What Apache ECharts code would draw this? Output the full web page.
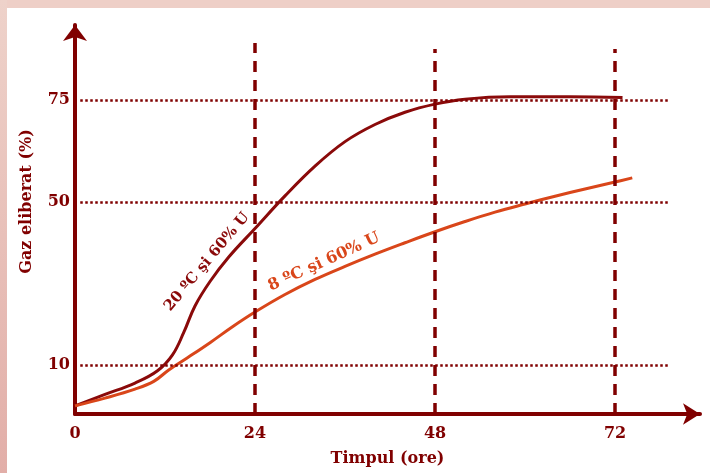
<!DOCTYPE html>
<html>
<head>
<meta charset="utf-8">
<script src="https://cdn.jsdelivr.net/npm/echarts@6/dist/echarts.min.js"></script>
<style>
html,body{margin:0;padding:0;background:#fff;}
#c{width:710px;height:473px;}
</style>
</head>
<body>
<div id="c"></div>
<script>
// Data
const time20 = [0, 4, 8, 11, 13, 14.5, 16, 18, 20.5, 24, 28, 32, 36, 40, 44, 48, 52, 58, 66, 73];
const gas20  = [0, 2.8, 5.6, 8.6, 12.5, 18, 24.5, 30.5, 36.5, 43.5, 51.5, 58.8, 64.8, 69, 72, 74, 75.2, 75.8, 75.8, 75.6];
const time8  = [0, 4, 8, 10.5, 12.5, 15, 18, 21, 24, 28, 32, 36, 40, 44, 48, 52, 56, 60, 64, 68, 72, 74.3];
const gas8   = [0, 1.9, 4.1, 6.0, 8.8, 11.8, 15.5, 19.4, 23.0, 27.3, 31.0, 34.2, 37.2, 40.0, 42.7, 45.2, 47.5, 49.5, 51.4, 53.2, 54.9, 55.9];
const xTicks = [0, 24, 48, 72];
const yTicks = [10, 50, 75];
const label20 = '20 ºC şi 60% U';
const label8 = '8 ºC şi 60% U';

const DARK = '#800000';
const RED = '#8a0a0a';
const ORANGE = '#d9461a';
const FONT = '"DejaVu Serif", "Liberation Serif", serif';

const zip = (a, b) => a.map((v, i) => [v, b[i]]);

const hLines = yTicks.map(v => [
  {coord: [0.7, v], lineStyle: {type: [2.5, 2.5], width: 2.5, color: DARK}},
  {coord: [79.3, v]}
]);
const vLines = [24, 48, 72].map(t => [
  {coord: [t, -2], lineStyle: {type: [11, 8], width: 3.5, color: DARK}},
  {coord: [t, t === 24 ? 89 : 87.5]}
]);

const chart = echarts.init(document.getElementById('c'), null, {renderer: 'canvas'});
chart.setOption({
  animation: false,
  backgroundColor: '#fff',
  grid: {left: 75, right: 10, top: 25, bottom: 59, containLabel: false},
  xAxis: {
    type: 'value', min: 0, max: 83.33,
    axisLine: {onZero: false, lineStyle: {color: DARK, width: 4}, symbol: ['none', 'arrow'], symbolSize: [16, 17]},
    axisTick: {show: false},
    splitLine: {show: false},
    axisLabel: {customValues: xTicks, color: DARK, fontFamily: FONT, fontWeight: 'bold', fontSize: 16, margin: 12},
    name: 'Timpul (ore)', nameLocation: 'middle', nameGap: 37,
    nameTextStyle: {color: DARK, fontFamily: FONT, fontWeight: 'bold', fontSize: 16}
  },
  yAxis: {
    type: 'value', min: -2, max: 93.4,
    axisLine: {onZero: false, lineStyle: {color: DARK, width: 4}, symbol: ['none', 'arrow'], symbolSize: [18, 16]},
    axisTick: {show: false},
    splitLine: {show: false},
    axisLabel: {customValues: yTicks, color: DARK, fontFamily: FONT, fontWeight: 'bold', fontSize: 16, margin: 5},
    name: 'Gaz eliberat (%)', nameLocation: 'middle', nameGap: 40, nameRotate: 90,
    nameTextStyle: {color: DARK, fontFamily: FONT, fontWeight: 'bold', fontSize: 16, padding: [0, 0, 0, 36]}
  },
  graphic: [
    {type: 'rect', z: -10, shape: {x: 0, y: 0, width: 710, height: 8}, style: {fill: '#eecfc7'}, silent: true},
    {type: 'rect', z: -10, shape: {x: 0, y: 0, width: 7, height: 473},
      style: {fill: new echarts.graphic.LinearGradient(0, 0, 0, 1, [{offset: 0, color: '#eed2ca'}, {offset: 1, color: '#e2aea8'}])}, silent: true},
    {type: 'text', x: 207, y: 262, rotation: 50 * Math.PI / 180, z: 10,
      style: {text: label20, fill: RED, font: 'bold 15px ' + FONT, textAlign: 'center', textVerticalAlign: 'middle', align: 'center', verticalAlign: 'middle'}},
    {type: 'text', x: 324, y: 262, rotation: 24.5 * Math.PI / 180, z: 10,
      style: {text: label8, fill: ORANGE, font: 'bold 16px ' + FONT, textAlign: 'center', textVerticalAlign: 'middle', align: 'center', verticalAlign: 'middle'}}
  ],
  series: [
    {
      type: 'line', data: [], z: 1, silent: true,
      markLine: {silent: true, symbol: ['none', 'none'], label: {show: false}, animation: false,
        data: hLines.concat(vLines)}
    },
    {
      type: 'line', name: label20, data: zip(time20, gas20), smooth: 0.4, showSymbol: false, z: 3,
      lineStyle: {color: RED, width: 3}
    },
    {
      type: 'line', name: label8, data: zip(time8, gas8), smooth: 0.4, showSymbol: false, z: 3,
      lineStyle: {color: ORANGE, width: 3}
    }
  ]
});
</script>
</body>
</html>
